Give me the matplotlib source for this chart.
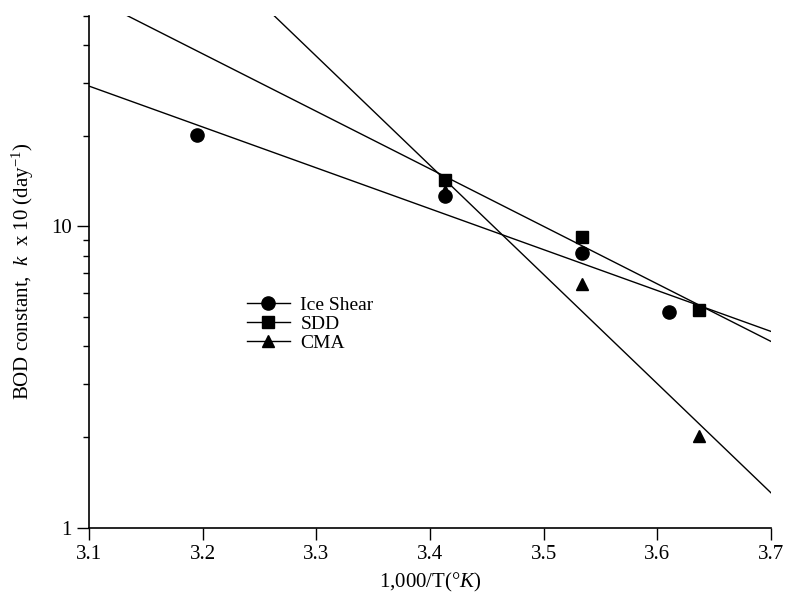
import matplotlib
matplotlib.use("Agg")
import matplotlib.pyplot as plt
from matplotlib.lines import Line2D
from matplotlib.ticker import FixedLocator, FormatStrFormatter, NullFormatter, LogLocator

plt.rcParams['font.family'] = ['Liberation Serif', 'DejaVu Serif']
plt.rcParams['mathtext.fontset'] = 'custom'
plt.rcParams['mathtext.rm'] = 'Liberation Serif'
plt.rcParams['mathtext.it'] = 'Liberation Serif:italic'

# Data
ice_x = [3.195, 3.413, 3.534, 3.610]
ice_y = [20.1, 12.6, 8.13, 5.2]
sdd_x = [3.413, 3.534, 3.637]
sdd_y = [14.3, 9.24, 5.29]
cma_x = [3.413, 3.534, 3.637]
cma_y = [13.1, 6.46, 2.01]

# Fitted lines (values at x = 3.1 and 3.7)
fit_x = [3.1, 3.7]
ice_fit = [29.2, 4.48]
sdd_fit = [58.0, 4.15]
cma_fit = [194.5, 1.305]

labels = ["Ice Shear", "SDD", "CMA"]
x_ticks = [3.1, 3.2, 3.3, 3.4, 3.5, 3.6, 3.7]
y_ticks = [1, 10]

fig = plt.figure(figsize=(7.85, 6.0), dpi=100)
ax = fig.add_axes([89 / 785, 1 - 527.7 / 600, (771 - 89) / 785, (527.7 - 15.7) / 600])

ax.set_yscale('log')
for fy in (ice_fit, sdd_fit, cma_fit):
    ax.plot(fit_x, fy, color='black', lw=1.0)

ax.plot(ice_x, ice_y, linestyle='none', marker='o', ms=9.5, color='black')
ax.plot(sdd_x, sdd_y, linestyle='none', marker='s', ms=8, color='black')
ax.plot(cma_x, cma_y, linestyle='none', marker='^', ms=9, color='black')

ax.set_xlim(3.1, 3.7)
ax.set_ylim(1, 50)

ax.xaxis.set_major_locator(FixedLocator(x_ticks))
ax.xaxis.set_major_formatter(FormatStrFormatter('%.1f'))
ax.yaxis.set_major_locator(FixedLocator(y_ticks))
ax.yaxis.set_major_formatter(FormatStrFormatter('%g'))
ax.yaxis.set_minor_locator(LogLocator(base=10, subs=[2, 3, 4, 5, 6, 7, 8, 9]))
ax.yaxis.set_minor_formatter(NullFormatter())

for s in ('top', 'right'):
    ax.spines[s].set_visible(False)
for s in ('left', 'bottom'):
    ax.spines[s].set_linewidth(1.2)

ax.tick_params(axis='both', which='major', direction='out', length=8.5, width=1.0,
               labelsize=15, pad=4)
ax.tick_params(axis='y', which='minor', direction='out', length=4.3, width=1.0)

ax.set_xlabel(r"1,000/T($\degree$$\it{K}$)", fontsize=15, labelpad=5)
ax.set_ylabel(r"BOD constant,  $\it{k}$  x 10 (day$^{-1}$)", fontsize=15, labelpad=11)

handles = [
    Line2D([], [], color='black', lw=1.0, marker='o', ms=9.5),
    Line2D([], [], color='black', lw=1.0, marker='s', ms=8),
    Line2D([], [], color='black', lw=1.0, marker='^', ms=9),
]
ax.legend(handles, labels, loc='upper left', bbox_to_anchor=(247 / 785, 1 - 296 / 600),
          bbox_transform=fig.transFigure, frameon=False, borderpad=0, borderaxespad=0,
          handlelength=2.2, handletextpad=0.55, labelspacing=0.08, fontsize=14)

fig.savefig("out.png", dpi=100)
